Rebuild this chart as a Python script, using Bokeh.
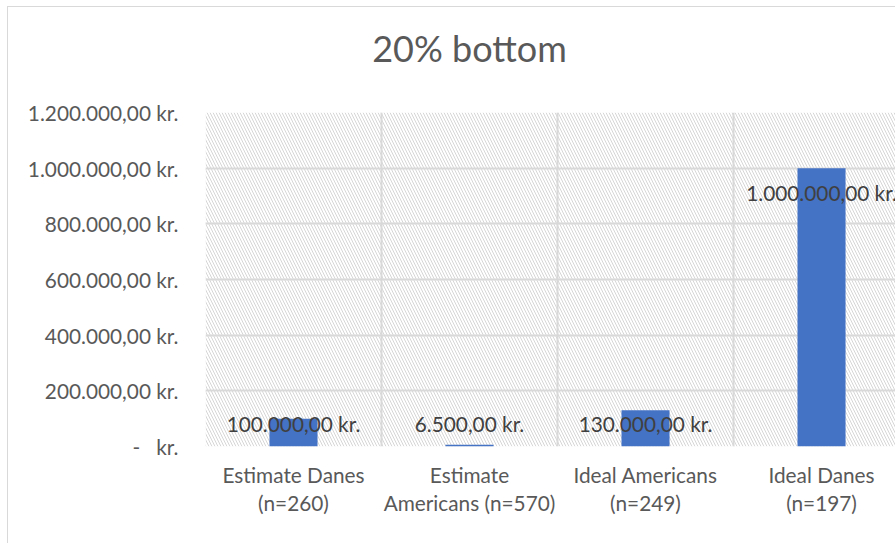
from bokeh.plotting import figure
from bokeh.models import Range1d, FixedTicker, BoxAnnotation, LinearAxis
from bokeh.core.properties import value
from bokeh.embed import file_html
from bokeh.resources import INLINE

# ---- data ----
categories = ["Estimate Danes\n(n=260)", "Estimate\nAmericans (n=570)",
              "Ideal Americans\n(n=249)", "Ideal Danes\n(n=197)"]
values = [100000, 6500, 130000, 1000000]
value_labels = ["100.000,00 kr.", "6.500,00 kr.", "130.000,00 kr.", "1.000.000,00 kr."]
y_ticks = [0, 200000, 400000, 600000, 800000, 1000000, 1200000]
y_tick_labels = ["-\u00a0\u00a0\u00a0kr.", "200.000,00 kr.", "400.000,00 kr.", "600.000,00 kr.",
                 "800.000,00 kr.", "1.000.000,00 kr.", "1.200.000,00 kr."]
title_text = "20% bottom"

FONT = "Lato"
FS = "20.8px"
W, H = 888, 537
xs = [i + 0.5 for i in range(len(categories))]

p = figure(width=W, height=H, output_backend="svg", toolbar_location=None,
           x_range=Range1d(0, 3.926), y_range=Range1d(0, 1200000),
           min_border_left=197, min_border_right=0, min_border_top=105, min_border_bottom=98)
p.styles = {"margin-left": "7px", "margin-top": "6px",
            "border-left": "1px solid #D9D9D9", "border-top": "1px solid #D9D9D9"}

p.outline_line_color = None
p.background_fill_color = "white"
p.border_fill_color = "white"

# hatched plot area
p.add_layout(BoxAnnotation(fill_color="white", fill_alpha=1, line_color=None,
                           hatch_pattern="\\", hatch_color="#D6D6D6", hatch_scale=6,
                           hatch_weight=1, level="image"))

p.vbar(x=xs, top=values, width=0.273, color="#4472C4", line_color=None)

# data labels
label_y = [max(v - 87400, 83500) for v in values]
p.text(x=xs, y=label_y, text=value_labels, text_align="center", text_baseline="middle",
       text_font=value(FONT), text_font_size=FS, text_color="#404040")

# chart title, drawn as the single label of an axis above the frame
title_pos = 1.5
title_axis = LinearAxis(ticker=FixedTicker(ticks=[title_pos]),
                        major_label_overrides={title_pos: title_text},
                        axis_line_color=None, major_tick_line_color=None,
                        minor_tick_line_color=None, major_label_standoff=37,
                        major_label_text_font=FONT, major_label_text_font_size="36px",
                        major_label_text_color="#595959")
p.add_layout(title_axis, "above")

# y axis
p.yaxis.ticker = FixedTicker(ticks=y_ticks)
p.yaxis.major_label_overrides = {t: l for t, l in zip(y_ticks, y_tick_labels)}
p.yaxis.axis_line_color = None
p.yaxis.major_tick_line_color = None
p.yaxis.minor_tick_line_color = None
p.yaxis.major_label_standoff = 21
p.yaxis.major_label_text_font = FONT
p.yaxis.major_label_text_font_size = FS
p.yaxis.major_label_text_color = "#595959"

# x axis
xaxis = p.below[0]
xaxis.ticker = FixedTicker(ticks=xs)
xaxis.major_label_overrides = {x: c for x, c in zip(xs, categories)}
xaxis.axis_line_color = None
xaxis.major_tick_line_color = None
xaxis.minor_tick_line_color = None
xaxis.major_label_standoff = 9
xaxis.major_label_text_font = FONT
xaxis.major_label_text_font_size = FS
xaxis.major_label_text_line_height = 1.12
xaxis.major_label_text_color = "#595959"

# grids
p.ygrid.ticker = FixedTicker(ticks=y_ticks)
p.ygrid.grid_line_color = "#D9D9D9"
p.ygrid.grid_line_width = 2
p.xgrid.ticker = FixedTicker(ticks=[0, 1, 2, 3, 4])
p.xgrid.grid_line_color = "#D9D9D9"
p.xgrid.grid_line_width = 2

open("out.html", "w").write(file_html(p, INLINE))
